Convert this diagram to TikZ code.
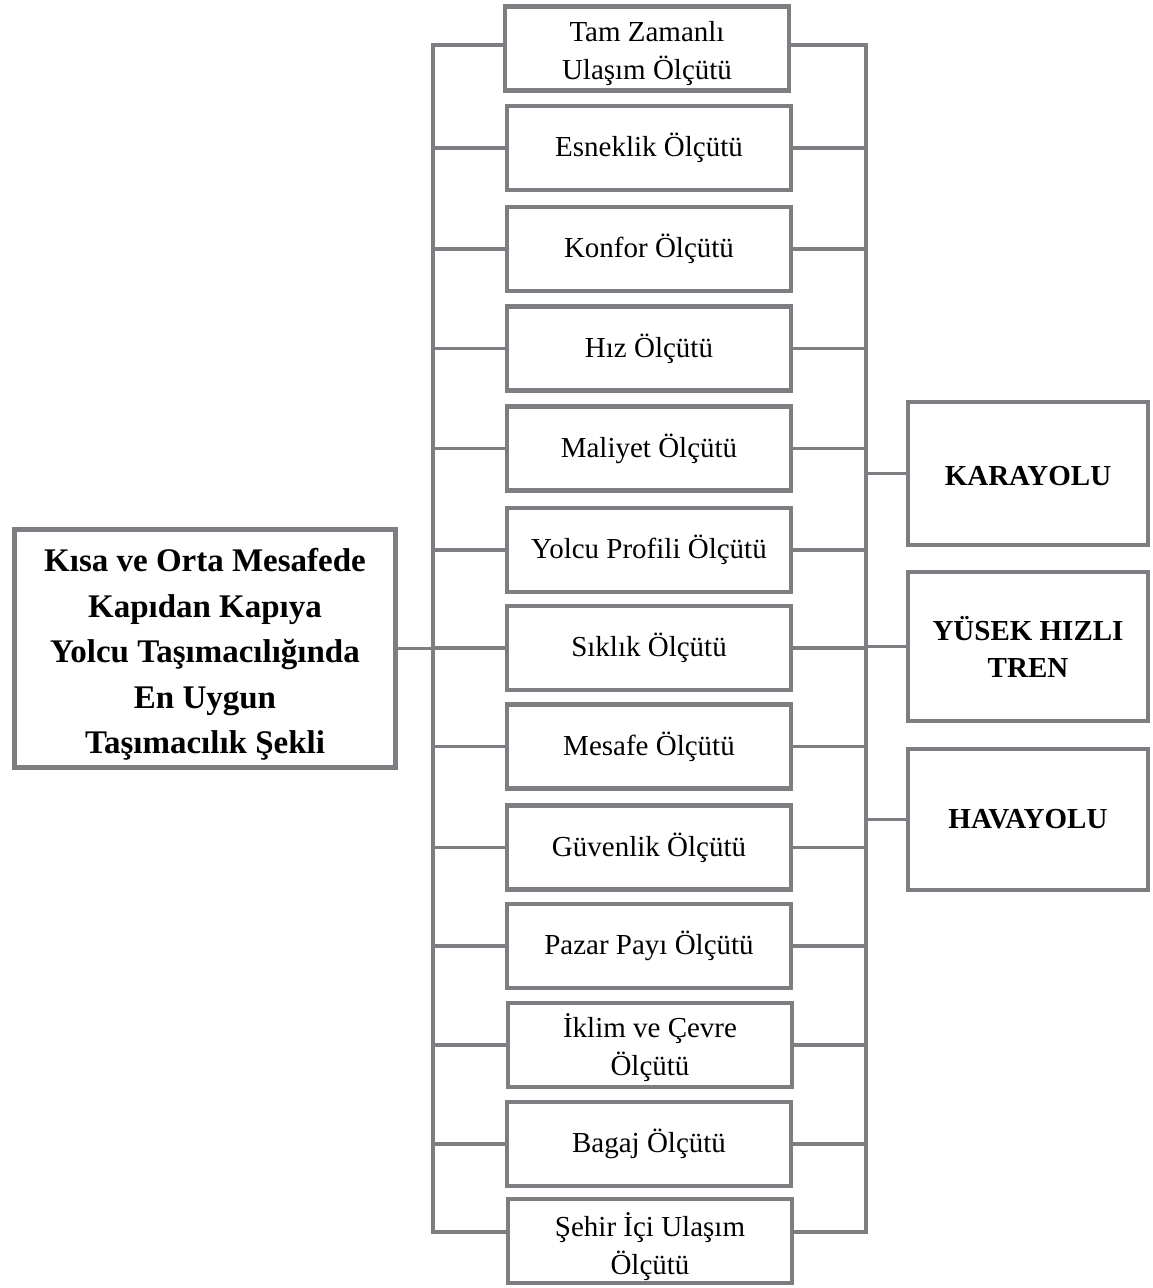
\documentclass[tikz,border=0pt]{standalone}
\usepackage{fontspec}
\setmainfont{Liberation Serif}
\definecolor{boxgray}{RGB}{126,126,130}
\newcommand{\topstrut}[1]{\rule{0pt}{#1}}
\begin{document}
\begin{tikzpicture}[x=1pt,y=-1pt,
  crit/.style={draw=boxgray,line width=4.5pt,fill=white,minimum width=284pt,minimum height=84pt,inner sep=0pt,align=center,font=\fontsize{29}{38}\selectfont},
  goalbox/.style={draw=boxgray,line width=4.5pt,fill=white,minimum width=381pt,minimum height=238pt,inner sep=0pt,align=center,font=\fontsize{33}{45.5}\selectfont\bfseries},
  modebox/.style={draw=boxgray,line width=4.5pt,fill=white,minimum width=240pt,inner sep=0pt,align=center,font=\fontsize{29}{37}\selectfont\bfseries},
  conn/.style={draw=boxgray,line width=3.3pt,line cap=rect}]
\useasboundingbox (0,0) rectangle (1152,1288);
% buses (drawn first, under the boxes)
\coordinate (lt) at (433,45);
\coordinate (lb) at (433,1232);
\coordinate (rt) at (866,45);
\coordinate (rb) at (866,1232);
\draw[conn] (lt) -- (lb);
\draw[conn] (rt) -- (rb);
% criteria boxes
\node[crit] (c1)  at (647,48.5)  {\topstrut{30pt}Tam Zamanlı\\Ulaşım Ölçütü};
\node[crit] (c2)  at (649,148)   {Esneklik Ölçütü};
\node[crit] (c3)  at (649,249)   {Konfor Ölçütü};
\node[crit] (c4)  at (649,348.5) {Hız Ölçütü};
\node[crit] (c5)  at (649,448.5) {Maliyet Ölçütü};
\node[crit] (c6)  at (649,550)   {Yolcu Profili Ölçütü};
\node[crit] (c7)  at (649,648)   {Sıklık Ölçütü};
\node[crit] (c8)  at (649,746.5) {Mesafe Ölçütü};
\node[crit] (c9)  at (649,847.5) {Güvenlik Ölçütü};
\node[crit] (c10) at (649,946)   {Pazar Payı Ölçütü};
\node[crit] (c11) at (650,1045)  {\topstrut{30pt}İklim ve Çevre\\Ölçütü};
\node[crit] (c12) at (649,1144)  {Bagaj Ölçütü};
\node[crit] (c13) at (650,1241)  {\topstrut{35pt}Şehir İçi Ulaşım\\Ölçütü};
% goal box
\node[goalbox] (goal) at (205,648.5) {\topstrut{35pt}Kısa ve Orta Mesafede\\Kapıdan Kapıya\\Yolcu Taşımacılığında\\En Uygun\\Taşımacılık Şekli};
% mode boxes
\node[modebox,minimum height=143pt] (kara) at (1028,473.5) {\topstrut{25pt}KARAYOLU};
\node[modebox,minimum height=149pt] (tren) at (1028,646.5) {YÜSEK HIZLI\\TREN};
\node[modebox,minimum height=141pt] (hava) at (1028,819.5) {HAVAYOLU};
% branches
\draw[conn] (c1.west |- lt) -- (lt);
\draw[conn] (c1.east |- rt) -- (rt);
\foreach \n in {c2,c3,c4,c5,c6,c7,c8,c9,c10,c11,c12}{
  \draw[conn] (\n.west) -- (\n.west -| lt);
  \draw[conn] (\n.east) -- (\n.east -| rt);
}
\draw[conn] (c13.west |- lb) -- (lb);
\draw[conn] (c13.east |- rb) -- (rb);
\draw[conn] (goal.east) -- (goal.east -| lt);
\draw[conn] (kara.west) -- (kara.west -| rt);
\draw[conn] (tren.west) -- (tren.west -| rt);
\draw[conn] (hava.west) -- (hava.west -| rt);
\end{tikzpicture}
\end{document}
